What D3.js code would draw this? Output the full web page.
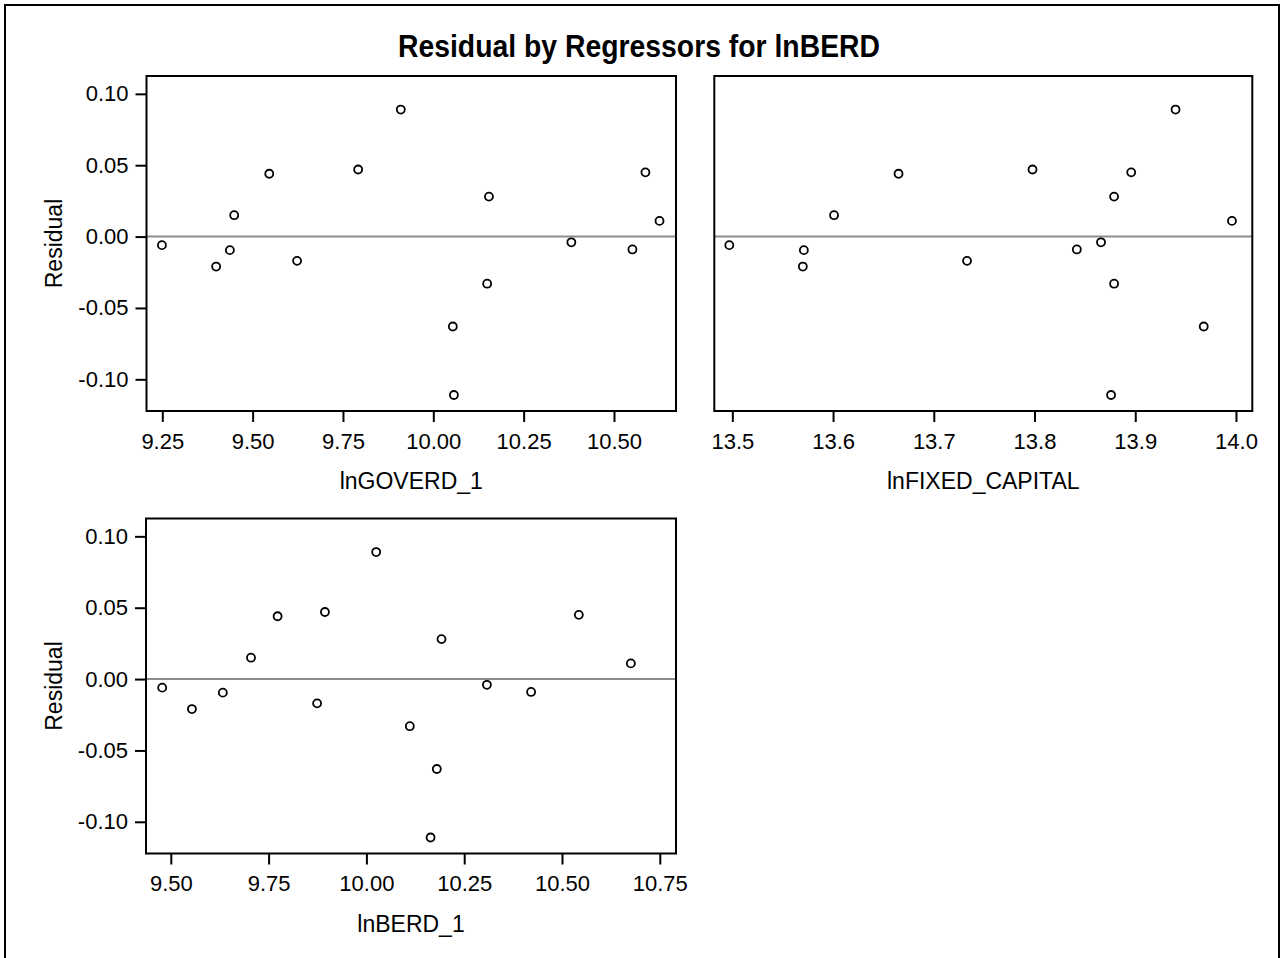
<!DOCTYPE html>
<html>
<head>
    <meta charset='utf-8' />
    <title>Residual by Regressors for lnBERD</title>
    <style>
      body { margin: 0; background: #fff; }
      text { font-family: 'Liberation Sans', Arial, sans-serif; fill: #000; }
    </style>
</head>
<body>
  <div id="wrapper"></div>
<script src='https://d3js.org/d3.v7.min.js' charset='utf-8'></script>
<script>
// residual plots, one panel per regressor
const width = 1285
const height = 958

// residuals, one per observation (same order in every panel)
const residual = [-0.006, -0.021, -0.0095, 0.015, 0.044, -0.017, 0.047, 0.089,
                  -0.063, -0.111, 0.028, -0.033, -0.004, -0.009, 0.045, 0.011]

const lnGOVERD_1 = [9.249, 9.399, 9.437, 9.449, 9.546, 9.623, 9.792, 9.910,
                    10.054, 10.057, 10.154, 10.149, 10.382, 10.551, 10.587, 10.626]

const lnFIXED_CAPITAL = [13.497, 13.570, 13.571, 13.601, 13.665, 13.733, 13.798, 13.940,
                         13.968, 13.876, 13.879, 13.879, 13.866, 13.842, 13.896, 13.996]

const lnBERD_1 = [9.478, 9.554, 9.633, 9.705, 9.773, 9.874, 9.894, 10.025,
                  10.180, 10.164, 10.192, 10.111, 10.308, 10.421, 10.543, 10.676]

const yTicks = [-0.10, -0.05, 0.00, 0.05, 0.10]
const govTicks = [9.25, 9.50, 9.75, 10.00, 10.25, 10.50]
const capTicks = [13.5, 13.6, 13.7, 13.8, 13.9, 14.0]
const berdTicks = [9.50, 9.75, 10.00, 10.25, 10.50, 10.75]

const titleText = 'Residual by Regressors for lnBERD'
const yLabel = 'Residual'

// panel boxes and their x ranges
const panels = [
  { name: 'lnGOVERD_1', xs: lnGOVERD_1, ticks: govTicks, fmt: '.2f',
    x0: 146.5, x1: 676, y0: 76, y1: 411, domain: [9.2063, 10.6716], yAxis: true },
  { name: 'lnFIXED_CAPITAL', xs: lnFIXED_CAPITAL, ticks: capTicks, fmt: '.1f',
    x0: 714.3, x1: 1252.3, y0: 76, y1: 411, domain: [13.4821, 14.0162], yAxis: false },
  { name: 'lnBERD_1', xs: lnBERD_1, ticks: berdTicks, fmt: '.2f',
    x0: 146, x1: 676, y0: 518.5, y1: 853.5, domain: [9.4366, 10.7914], yAxis: true }
]
const yDomain = [-0.1222, 0.1125]

// plain hyphen for negatives, like the original output
const fmtHyphen = f => d => d3.format(f)(d).replace('\u2212', '-')

const svg = d3.select('#wrapper').append('svg')
    .attr('width', width)
    .attr('height', height)

// outer frame
svg.append('rect')
    .attr('x', 5).attr('y', 5)
    .attr('width', 1274).attr('height', 960)
    .attr('fill', 'none')
    .attr('stroke', '#000')
    .attr('stroke-width', 2)

svg.append('text')
    .attr('x', 639).attr('y', 57)
    .attr('text-anchor', 'middle')
    .attr('font-size', 31)
    .attr('font-weight', 'bold')
    .attr('textLength', 482)
    .attr('lengthAdjust', 'spacingAndGlyphs')
    .text(titleText)

panels.forEach(function(p) {
  const x = d3.scaleLinear().domain(p.domain).range([p.x0, p.x1])
  const y = d3.scaleLinear().domain(yDomain).range([p.y1, p.y0])
  const g = svg.append('g')

  // zero reference line
  g.append('line')
      .attr('x1', p.x0).attr('x2', p.x1)
      .attr('y1', y(0)).attr('y2', y(0))
      .attr('stroke', '#8c8c8c')
      .attr('stroke-width', 2)

  // x axis
  const xa = g.append('g')
      .attr('transform', 'translate(0,' + p.y1 + ')')
      .call(d3.axisBottom(x).tickValues(p.ticks).tickFormat(fmtHyphen(p.fmt))
            .tickSize(11).tickSizeOuter(0).tickPadding(11))
  xa.select('.domain').remove()
  xa.selectAll('line').attr('stroke', '#000').attr('stroke-width', 2)
  xa.selectAll('text').attr('font-size', 22).attr('fill', '#000')
      .attr('font-family', "'Liberation Sans', Arial, sans-serif")

  g.append('text')
      .attr('x', (p.x0 + p.x1) / 2).attr('y', p.y1 + 78)
      .attr('text-anchor', 'middle')
      .attr('font-size', 23)
      .text(p.name)

  if (p.yAxis) {
    const ya = g.append('g')
        .attr('transform', 'translate(' + p.x0 + ',0)')
        .call(d3.axisLeft(y).tickValues(yTicks).tickFormat(fmtHyphen('.2f'))
              .tickSize(11).tickSizeOuter(0).tickPadding(7))
    ya.select('.domain').remove()
    ya.selectAll('line').attr('stroke', '#000').attr('stroke-width', 2)
    ya.selectAll('text').attr('font-size', 22).attr('fill', '#000')
        .attr('font-family', "'Liberation Sans', Arial, sans-serif")

    g.append('text')
        .attr('transform', 'translate(61.5,' + ((p.y0 + p.y1) / 2) + ') rotate(-90)')
        .attr('text-anchor', 'middle')
        .attr('font-size', 23)
        .text(yLabel)
  }

  // panel frame
  g.append('rect')
      .attr('x', p.x0).attr('y', p.y0)
      .attr('width', p.x1 - p.x0).attr('height', p.y1 - p.y0)
      .attr('fill', 'none')
      .attr('stroke', '#000')
      .attr('stroke-width', 2)

  // points
  g.selectAll('circle')
      .data(residual)
      .enter().append('circle')
      .attr('cx', (d, i) => x(p.xs[i]))
      .attr('cy', d => y(d))
      .attr('r', 4)
      .attr('fill', 'none')
      .attr('stroke', '#000')
      .attr('stroke-width', 1.8)
})
</script>
</body>
</html>
